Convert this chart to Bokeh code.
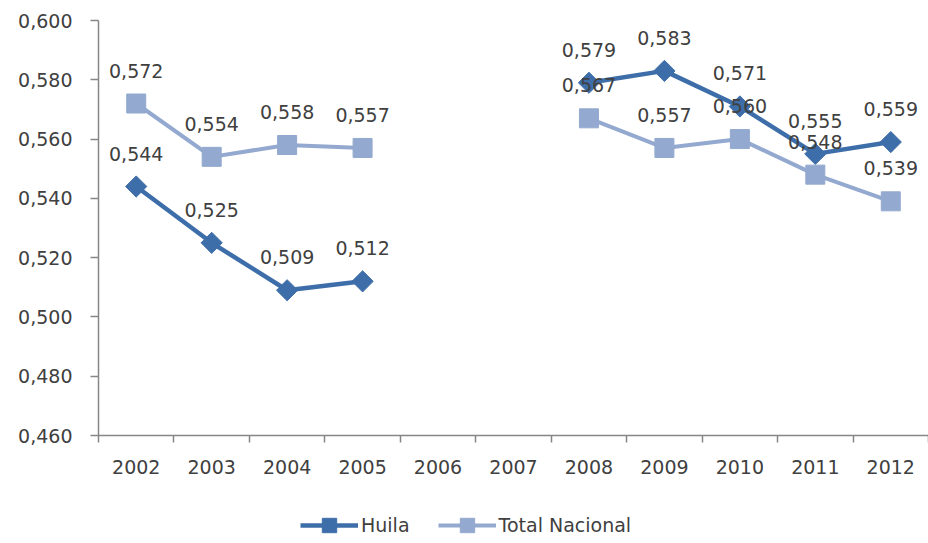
import math
from bokeh.plotting import figure
from bokeh.layouts import column
from bokeh.models import Range1d, FixedTicker, Legend, LegendItem, ColumnDataSource
from bokeh.embed import file_html
from bokeh.resources import INLINE
from bokeh.core.properties import value

nan = float("nan")
years = [2002, 2003, 2004, 2005, 2006, 2007, 2008, 2009, 2010, 2011, 2012]
huila = [0.544, 0.525, 0.509, 0.512, nan, nan, 0.579, 0.583, 0.571, 0.555, 0.559]
total_nacional = [0.572, 0.554, 0.558, 0.557, nan, nan, 0.567, 0.557, 0.560, 0.548, 0.539]
y_ticks = [0.46, 0.48, 0.50, 0.52, 0.54, 0.56, 0.58, 0.60]
y_tick_labels = ["0,460", "0,480", "0,500", "0,520", "0,540", "0,560", "0,580", "0,600"]
x_tick_labels = ["2002", "2003", "2004", "2005", "2006", "2007", "2008", "2009", "2010", "2011", "2012"]
series_names = ["Huila", "Total Nacional"]

HUILA_C = "#3E6EA9"
TOTAL_C = "#93A9CF"
TEXT_C = "#404040"
AXIS_C = "#868686"
FONT = "DejaVu Sans"
FS = "19px"

p = figure(width=928, height=490, frame_width=830, frame_height=415,
           output_backend="svg", toolbar_location=None,
           x_range=Range1d(years[0] - 0.5, years[-1] + 0.5),
           y_range=Range1d(y_ticks[0], y_ticks[-1]),
           min_border_left=98, min_border_right=0, min_border_top=20, min_border_bottom=55)
p.outline_line_color = None
p.xgrid.visible = False
p.ygrid.visible = False

# Series
p.line(years, huila, line_color=HUILA_C, line_width=4.5)
p.scatter(years, huila, marker="square", angle=math.pi / 4, size=15,
          fill_color=HUILA_C, line_color=HUILA_C)
p.line(years, total_nacional, line_color=TOTAL_C, line_width=4)
p.scatter(years, total_nacional, marker="square", size=19,
          fill_color=TOTAL_C, line_color=TOTAL_C)

def label_source(xs, ys):
    d = {"x": [], "y": [], "t": []}
    for x, y in zip(xs, ys):
        if not math.isnan(y):
            d["x"].append(x)
            d["y"].append(y)
            d["t"].append(f"{y:.3f}".replace(".", ","))
    return ColumnDataSource(d)

for src in (label_source(years, huila), label_source(years, total_nacional)):
    p.text(x="x", y="y", text="t", source=src, y_offset=-33,
           text_align="center", text_baseline="middle",
           text_font=value(FONT), text_font_size=FS, text_color=TEXT_C)

# Axes
xa = p.xaxis[0]
xa.ticker = FixedTicker(ticks=years, minor_ticks=[y - 0.5 for y in years] + [years[-1] + 0.5])
xa.major_label_overrides = {y: s for y, s in zip(years, x_tick_labels)}
xa.major_tick_line_color = None
xa.major_tick_out = 0
xa.major_tick_in = 0
xa.minor_tick_out = 7
xa.minor_tick_in = 0
xa.minor_tick_line_color = AXIS_C
xa.minor_tick_line_width = 1.5
xa.axis_line_color = AXIS_C
xa.axis_line_width = 1.5
xa.major_label_standoff = 17
xa.major_label_text_font = FONT
xa.major_label_text_font_size = FS
xa.major_label_text_color = TEXT_C

ya = p.yaxis[0]
ya.ticker = FixedTicker(ticks=y_ticks, minor_ticks=[])
ya.major_label_overrides = {t: s for t, s in zip(y_ticks, y_tick_labels)}
ya.major_tick_out = 8
ya.major_tick_in = 0
ya.major_tick_line_color = AXIS_C
ya.major_tick_line_width = 1.5
ya.minor_tick_line_color = None
ya.axis_line_color = AXIS_C
ya.axis_line_width = 1.5
ya.major_label_standoff = 18
ya.major_label_text_font = FONT
ya.major_label_text_font_size = FS
ya.major_label_text_color = TEXT_C

# Legend strip below the chart (legend-only renderers hold no visible points)
pl = figure(width=928, height=53, output_backend="svg", toolbar_location=None,
            x_range=Range1d(0, 1), y_range=Range1d(0, 1),
            min_border_left=0, min_border_right=0, min_border_top=0, min_border_bottom=0)
pl.axis.visible = False
pl.xgrid.visible = False
pl.ygrid.visible = False
pl.outline_line_color = None
lh_line = pl.line(x=[nan], y=[nan], line_color=HUILA_C, line_width=4.5)
lh_mark = pl.scatter(x=[nan], y=[nan], marker="square", angle=math.pi / 4, size=15,
                     fill_color=HUILA_C, line_color=HUILA_C)
lt_line = pl.line(x=[nan], y=[nan], line_color=TOTAL_C, line_width=4)
lt_mark = pl.scatter(x=[nan], y=[nan], marker="square", size=19,
                     fill_color=TOTAL_C, line_color=TOTAL_C)
legend = Legend(items=[LegendItem(label=series_names[0], renderers=[lh_line, lh_mark]),
                       LegendItem(label=series_names[1], renderers=[lt_line, lt_mark])],
                orientation="horizontal", location=(202, 0),
                glyph_width=58, glyph_height=36, label_standoff=3, spacing=28,
                border_line_color=None, background_fill_alpha=0,
                label_text_font=FONT, label_text_font_size=FS, label_text_color=TEXT_C,
                margin=0, padding=0)
pl.add_layout(legend, "center")

layout = column(p, pl, spacing=0)
open("out.html", "w").write(file_html(layout, INLINE))
